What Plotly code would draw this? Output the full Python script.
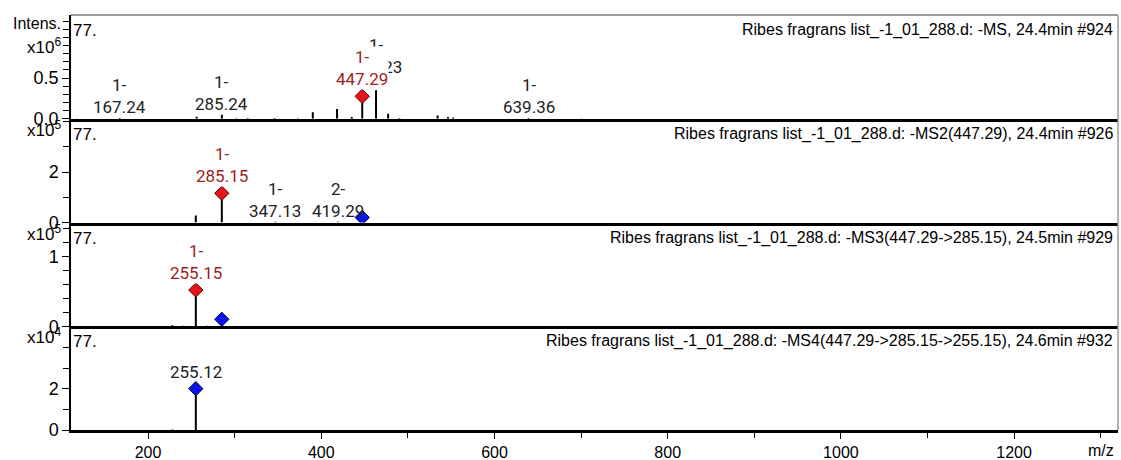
import plotly.graph_objects as go
from plotly.subplots import make_subplots

# ---------------- data ----------------
x_range = [111, 1320]
x_tickvals = [200, 400, 600, 800, 1000, 1200]
x_ticktext = ["200", "400", "600", "800", "1000", "1200"]
x_unit_label = "m/z"
x_unit_pos = 1300

titles = [
    "Ribes fragrans list_-1_01_288.d: -MS, 24.4min #924",
    "Ribes fragrans list_-1_01_288.d: -MS2(447.29), 24.4min #926",
    "Ribes fragrans list_-1_01_288.d: -MS3(447.29->285.15), 24.5min #929",
    "Ribes fragrans list_-1_01_288.d: -MS4(447.29->285.15->255.15), 24.6min #932",
]
corner_text = "77."
y_label = "Intens."
exponents = [6, 5, 5, 4]
y_tops = [1.275e6, 4.12e5, 1.49e5, 5.02e4]
y_tickvals = [[0, 0.5e6], [0, 2e5], [0, 1e5], [0, 2e4]]
y_ticktext = [["0.0", "0.5"], ["0", "2"], ["0", "1"], ["0", "2"]]
y_minor_dtick = [0.1e6, 1e5, 0.2e5, 1e4]

# MS (full scan)
ms1_mz = [118.0, 167.24, 256.1, 285.24, 302.1, 315.1, 346.2, 373.2, 390.2, 418.2,
          435.2, 447.29, 463.23, 477.2, 490.2, 534.3, 546.3, 552.3, 639.36, 700.4]
ms1_int = [0.004e6, 0.008e6, 0.025e6, 0.05e6, 0.006e6, 0.008e6, 0.008e6, 0.006e6, 0.08e6, 0.12e6,
           0.02e6, 0.275e6, 0.35e6, 0.06e6, 0.01e6, 0.04e6, 0.02e6, 0.015e6, 0.008e6, 0.004e6]
ms1_label_mz = [167.24, 285.24, 463.23, 447.29, 639.36]
ms1_label_charge = ["1-", "1-", "1-", "1-", "1-"]

# MS2 (447.29)
ms2_mz = [255.1, 285.15, 347.13, 419.29]
ms2_int = [0.28e5, 1.16e5, 0.03e5, 0.03e5]
ms2_label_mz = [285.15, 347.13, 419.29]
ms2_label_charge = ["1-", "1-", "2-"]

# MS3 (447.29->285.15)
ms3_mz = [228.1, 240.1, 255.15, 268.1]
ms3_int = [0.015e5, 0.006e5, 0.52e5, 0.006e5]
ms3_label_mz = [255.15]
ms3_label_charge = ["1-"]

# MS4 (447.29->285.15->255.15)
ms4_mz = [228.1, 255.12]
ms4_int = [0.03e4, 2.0e4]
ms4_label_mz = [255.12]
ms4_label_charge = [""]

# precursor (red) and isolated-parent (blue) markers per panel
red_mz = [[447.29], [285.15], [255.15], []]
red_int = [[0.275e6], [1.16e5], [0.52e5], []]
blue_mz = [[], [447.29], [285.15], [255.12]]
blue_int = [[], [0.2e5], [0.1e5], [2.0e4]]

panels = [
    (ms1_mz, ms1_int, ms1_label_mz, ms1_label_charge),
    (ms2_mz, ms2_int, ms2_label_mz, ms2_label_charge),
    (ms3_mz, ms3_int, ms3_label_mz, ms3_label_charge),
    (ms4_mz, ms4_int, ms4_label_mz, ms4_label_charge),
]

# ---------------- style ----------------
AX_FONT = "Liberation Sans, Arial, sans-serif"
LBL_FONT = "Roboto, Noto Sans, sans-serif"
RED_TXT = "#9e1b22"
RED_FILL = "#e3141c"
BLUE_FILL = "#0a14e6"
label_gap = {463.23: 12}

fig = make_subplots(rows=4, cols=1, shared_xaxes=True, vertical_spacing=0)

annotations = []
for i, (mz, inten, lab_mz, lab_ch) in enumerate(panels):
    r = i + 1
    xs, ys = [], []
    for m, v in zip(mz, inten):
        xs += [m, m, None]
        ys += [0, v, None]
    fig.add_trace(go.Scatter(x=xs, y=ys, mode="lines", line=dict(color="black", width=2),
                             hoverinfo="skip", showlegend=False), row=r, col=1)
    if blue_mz[i]:
        fig.add_trace(go.Scatter(x=blue_mz[i], y=blue_int[i], mode="markers",
                                 marker=dict(symbol="diamond", size=11, color=BLUE_FILL,
                                             line=dict(color="#00004a", width=1)),
                                 showlegend=False, hoverinfo="skip"), row=r, col=1)
    if red_mz[i]:
        fig.add_trace(go.Scatter(x=red_mz[i], y=red_int[i], mode="markers",
                                 marker=dict(symbol="diamond", size=11, color=RED_FILL,
                                             line=dict(color="#5a0000", width=1)),
                                 showlegend=False, hoverinfo="skip"), row=r, col=1)

    lookup = dict(zip(mz, inten))
    marked = set(red_mz[i]) | set(blue_mz[i])
    xref = "x" if r == 1 else f"x{r}"
    yref = "y" if r == 1 else f"y{r}"
    for m, ch in zip(lab_mz, lab_ch):
        is_red = m in red_mz[i]
        txt = f"{m:.2f}" if not ch else f"{ch}<br>{m:.2f}"
        shift = label_gap.get(m, 6 if m in marked else 0)
        annotations.append(dict(
            x=m, y=lookup[m], xref=xref, yref=yref, text=txt, showarrow=False,
            xanchor="center", yanchor="bottom", yshift=shift,
            font=dict(family=LBL_FONT, size=17, color=RED_TXT if is_red else "#222222"),
            bgcolor="white" if is_red else None, borderpad=0,
        ))

    ydom = f"{yref} domain"
    annotations.append(dict(x=1, y=1, xref="paper", yref=ydom, text=titles[i], showarrow=False,
                            xanchor="right", yanchor="top", xshift=-3, yshift=-4,
                            font=dict(family=AX_FONT, size=16, color="black")))
    annotations.append(dict(x=0, y=1, xref="paper", yref=ydom, text=corner_text, showarrow=False,
                            xanchor="left", yanchor="top", xshift=0, yshift=-4,
                            font=dict(family=AX_FONT, size=17, color="black")))
    annotations.append(dict(x=0, y=1, xref="paper", yref=ydom,
                            text=f"x10<sup>{exponents[i]}</sup>", showarrow=False,
                            xanchor="right", yanchor="middle", xshift=-8,
                            yshift=-31 if r == 1 else -10,
                            font=dict(family=AX_FONT, size=17, color="black")))
    if r == 1:
        annotations.append(dict(x=0, y=1, xref="paper", yref=ydom, text=y_label, showarrow=False,
                                xanchor="right", yanchor="middle", xshift=-8, yshift=-8,
                                font=dict(family=AX_FONT, size=16, color="black")))

    fig.update_yaxes(row=r, col=1, range=[0, y_tops[i]], tickvals=y_tickvals[i],
                     ticktext=y_ticktext[i], ticks="outside", ticklen=7, tickwidth=1.2,
                     tickcolor="black", showline=True, linecolor="black", linewidth=1.5,
                     showgrid=False, zeroline=False, automargin=False, fixedrange=True,
                     minor=dict(dtick=y_minor_dtick[i], tick0=0, ticks="outside", ticklen=6,
                                tickwidth=1.2, tickcolor="black", showgrid=False),
                     tickfont=dict(family=AX_FONT, size=18, color="black"))
    fig.update_xaxes(row=r, col=1, range=x_range, showline=True, linecolor="black",
                     linewidth=2.5, showgrid=False, zeroline=False, automargin=False,
                     fixedrange=True,
                     showticklabels=(r == 4), ticks="outside" if r == 4 else "",
                     tickvals=x_tickvals, ticktext=x_ticktext, ticklen=6, tickwidth=1.2,
                     tickcolor="black",
                     minor=dict(dtick=100, tick0=0, ticks="outside" if r == 4 else "",
                                ticklen=5, tickwidth=1.2, tickcolor="black", showgrid=False),
                     tickfont=dict(family=AX_FONT, size=16, color="black"))

annotations.append(dict(x=x_unit_pos, y=0, xref="x4", yref="paper", text=x_unit_label,
                        showarrow=False, xanchor="center", yanchor="top", yshift=-10,
                        font=dict(family=AX_FONT, size=16, color="black")))

fig.update_layout(
    width=1121, height=460, margin=dict(l=71, r=3, t=15, b=30, autoexpand=False),
    paper_bgcolor="white", plot_bgcolor="white", showlegend=False,
    annotations=annotations,
    shapes=[
        dict(type="line", xref="paper", yref="paper", x0=0, x1=1, y0=1, y1=1,
             line=dict(color="#7a7a7a", width=1.5)),
        dict(type="line", xref="paper", yref="paper", x0=1, x1=1, y0=0, y1=1,
             line=dict(color="#9a9a9a", width=1.5)),
    ],
)

fig.write_html("out.html", config={"displayModeBar": False},
               post_script="document.body.style.margin='0px';document.body.style.overflow='hidden';")
